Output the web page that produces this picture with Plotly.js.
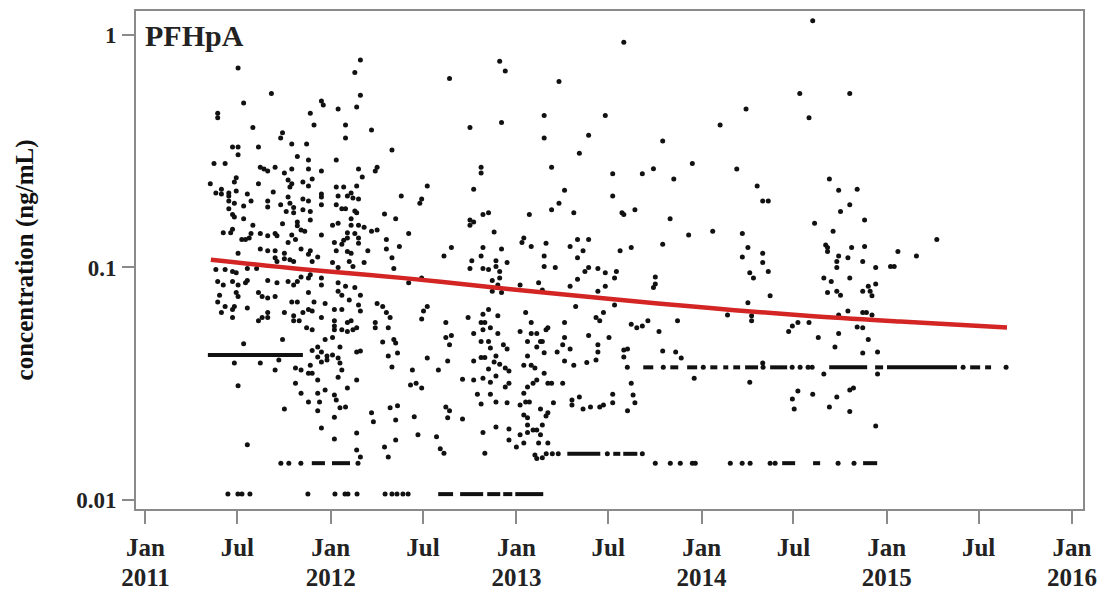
<!DOCTYPE html>
<html>
<head>
<meta charset="utf-8">
<script src="https://cdn.plot.ly/plotly-3.0.1.min.js"></script>
<style>html,body{margin:0;padding:0;background:#fff;}#chart{width:1102px;height:593px;}</style>
</head>
<body>
<div id="chart"></div>
<script>
// ---- data: [decimal year, concentration ng/mL] ----
const samples2011 = [[2011.50,0.72],[2011.68,0.56],[2011.53,0.51],[2011.95,0.52],[2011.96,0.50],[2011.89,0.46],[2011.39,0.46],[2011.39,0.44],[2011.91,0.41],[2011.74,0.38],[2011.73,0.36],[2011.58,0.40],[2011.79,0.34],[2011.87,0.34],[2011.47,0.33],[2011.50,0.33],[2011.50,0.305],[2011.61,0.33],[2011.82,0.30],[2011.88,0.29],[2011.37,0.28],[2011.43,0.28],[2011.62,0.27],[2011.64,0.265],[2011.66,0.26],[2011.70,0.27],[2011.79,0.265],[2011.88,0.265],[2011.95,0.26],[2011.75,0.255],[2011.49,0.243],[2011.48,0.233],[2011.77,0.238],[2011.85,0.233],[2011.90,0.24],[2011.79,0.229],[2011.78,0.222],[2011.88,0.224],[2011.35,0.229],[2011.61,0.229],[2011.41,0.217],[2011.38,0.209],[2011.41,0.207],[2011.45,0.209],[2011.45,0.203],[2011.49,0.213],[2011.55,0.207],[2011.69,0.211],[2011.95,0.207],[2011.95,0.201],[2011.77,0.201],[2011.85,0.197],[2011.88,0.193],[2011.45,0.193],[2011.48,0.189],[2011.57,0.193],[2011.66,0.193],[2011.66,0.182],[2011.73,0.186],[2011.78,0.189],[2011.80,0.181],[2011.80,0.172],[2011.53,0.184],[2011.95,0.186],[2011.45,0.179],[2011.47,0.169],[2011.48,0.165],[2011.76,0.174],[2011.85,0.177],[2011.89,0.174],[2011.53,0.162],[2011.89,0.160],[2011.74,0.154],[2011.82,0.157],[2011.82,0.151],[2011.84,0.145],[2011.58,0.152],[2011.47,0.146],[2011.46,0.141],[2011.42,0.141],[2011.57,0.140],[2011.56,0.134],[2011.62,0.140],[2011.66,0.137],[2011.70,0.140],[2011.71,0.137],[2011.79,0.138],[2011.86,0.143],[2011.95,0.138],[2011.52,0.132],[2011.54,0.132],[2011.77,0.128],[2011.81,0.132],[2011.62,0.120],[2011.66,0.118],[2011.50,0.115],[2011.70,0.118],[2011.84,0.120],[2011.89,0.118],[2011.88,0.114],[2011.75,0.115],[2011.75,0.109],[2011.78,0.108],[2011.80,0.106],[2011.70,0.110],[2011.71,0.106],[2011.90,0.106],[2011.93,0.111],[2011.38,0.098],[2011.43,0.098],[2011.47,0.096],[2011.49,0.095],[2011.55,0.099],[2011.60,0.099],[2011.39,0.087],[2011.42,0.084],[2011.47,0.087],[2011.50,0.084],[2011.54,0.086],[2011.55,0.088],[2011.66,0.088],[2011.71,0.086],[2011.77,0.087],[2011.80,0.084],[2011.82,0.087],[2011.84,0.091],[2011.88,0.090],[2011.89,0.093],[2011.95,0.090],[2011.95,0.084],[2011.40,0.076],[2011.39,0.071],[2011.50,0.075],[2011.49,0.078],[2011.61,0.078],[2011.63,0.075],[2011.66,0.074],[2011.70,0.075],[2011.79,0.071],[2011.82,0.071],[2011.88,0.078],[2011.91,0.071],[2011.97,0.070],[2011.41,0.064],[2011.43,0.068],[2011.47,0.066],[2011.48,0.068],[2011.47,0.061],[2011.55,0.067],[2011.61,0.059],[2011.63,0.061],[2011.66,0.061],[2011.66,0.064],[2011.75,0.064],[2011.80,0.062],[2011.80,0.059],[2011.85,0.064],[2011.88,0.066],[2011.90,0.065],[2011.83,0.059],[2011.95,0.061],[2011.87,0.055],[2011.90,0.054],[2011.97,0.049],[2011.53,0.047],[2011.74,0.049],[2011.90,0.044],[2011.93,0.0455],[2011.95,0.0433],[2011.98,0.0416],[2011.93,0.0412],[2011.95,0.0392],[2011.98,0.040],[2011.48,0.0388],[2011.62,0.0388],[2011.70,0.0362],[2011.72,0.040],[2011.81,0.037],[2011.84,0.0362],[2011.88,0.0351],[2011.90,0.0351],[2011.89,0.038],[2011.93,0.0328],[2011.81,0.0318],[2011.50,0.031],[2011.84,0.0288],[2011.93,0.0288],[2011.97,0.0297],[2011.88,0.0264],[2011.94,0.0264],[2011.75,0.0246],[2011.93,0.0242],[2011.95,0.0204],[2011.55,0.0173]];

const samples2012 = [[2012.16,0.78],[2012.13,0.69],[2012.16,0.55],[2012.14,0.49],[2012.04,0.48],[2012.08,0.41],[2012.22,0.39],[2012.08,0.36],[2012.33,0.32],[2012.03,0.29],[2012.15,0.265],[2012.25,0.27],[2012.24,0.26],[2012.17,0.245],[2012.03,0.222],[2012.07,0.222],[2012.14,0.224],[2012.04,0.203],[2012.09,0.203],[2012.11,0.209],[2012.12,0.199],[2012.38,0.203],[2012.03,0.186],[2012.06,0.179],[2012.08,0.179],[2012.15,0.197],[2012.13,0.175],[2012.14,0.172],[2012.29,0.170],[2012.35,0.162],[2012.11,0.162],[2012.01,0.152],[2012.04,0.155],[2012.11,0.152],[2012.15,0.152],[2012.18,0.149],[2012.22,0.143],[2012.25,0.145],[2012.09,0.141],[2012.09,0.134],[2012.13,0.140],[2012.15,0.134],[2012.02,0.128],[2012.07,0.131],[2012.06,0.126],[2012.15,0.127],[2012.30,0.132],[2012.37,0.123],[2012.03,0.118],[2012.09,0.117],[2012.11,0.115],[2012.20,0.118],[2012.30,0.120],[2012.01,0.105],[2012.04,0.100],[2012.10,0.106],[2012.12,0.101],[2012.18,0.105],[2012.33,0.110],[2012.34,0.099],[2012.04,0.086],[2012.08,0.083],[2012.13,0.082],[2012.16,0.076],[2012.04,0.079],[2012.06,0.076],[2012.10,0.0725],[2012.02,0.066],[2012.06,0.066],[2012.02,0.059],[2012.02,0.056],[2012.02,0.054],[2012.09,0.058],[2012.11,0.059],[2012.14,0.055],[2012.15,0.069],[2012.16,0.065],[2012.25,0.070],[2012.28,0.068],[2012.30,0.064],[2012.32,0.061],[2012.06,0.054],[2012.09,0.053],[2012.12,0.054],[2012.24,0.058],[2012.24,0.055],[2012.31,0.055],[2012.01,0.050],[2012.05,0.0455],[2012.28,0.0478],[2012.34,0.049],[2012.35,0.0473],[2012.01,0.042],[2012.14,0.0433],[2012.16,0.0437],[2012.04,0.0408],[2012.05,0.0388],[2012.31,0.0416],[2012.36,0.0429],[2012.06,0.0362],[2012.04,0.0337],[2012.33,0.0373],[2012.14,0.0328],[2012.09,0.0303],[2012.02,0.0283],[2012.03,0.0269],[2012.05,0.0249],[2012.08,0.0251],[2012.02,0.0227],[2012.22,0.0237],[2012.23,0.0217],[2012.32,0.0249],[2012.36,0.0254],[2012.35,0.0221],[2012.14,0.0194],[2012.02,0.0183],[2012.35,0.0181],[2012.14,0.0164],[2012.16,0.0153],[2012.29,0.0169],[2012.31,0.0153],[2012.91,0.77],[2012.94,0.70],[2012.64,0.65],[2012.92,0.42],[2012.75,0.40],[2012.81,0.27],[2012.81,0.255],[2012.52,0.224],[2012.77,0.217],[2012.49,0.197],[2012.48,0.189],[2012.82,0.169],[2012.85,0.172],[2012.75,0.160],[2012.77,0.157],[2012.75,0.152],[2012.88,0.142],[2012.42,0.140],[2012.65,0.122],[2012.61,0.112],[2012.82,0.122],[2012.92,0.120],[2012.81,0.112],[2012.76,0.107],[2012.89,0.107],[2012.89,0.101],[2012.95,0.105],[2012.75,0.099],[2012.82,0.099],[2012.85,0.098],[2012.91,0.096],[2012.91,0.090],[2012.87,0.088],[2012.90,0.084],[2012.87,0.079],[2012.92,0.078],[2012.42,0.086],[2012.49,0.090],[2012.52,0.068],[2012.50,0.065],[2012.49,0.060],[2012.62,0.058],[2012.74,0.061],[2012.82,0.063],[2012.85,0.066],[2012.90,0.062],[2012.81,0.058],[2012.83,0.058],[2012.86,0.055],[2012.77,0.052],[2012.82,0.054],[2012.90,0.052],[2012.62,0.050],[2012.65,0.051],[2012.64,0.0465],[2012.81,0.048],[2012.85,0.048],[2012.86,0.045],[2012.93,0.0465],[2012.95,0.0446],[2012.81,0.041],[2012.83,0.041],[2012.89,0.0416],[2012.52,0.0408],[2012.77,0.0396],[2012.63,0.0396],[2012.88,0.0392],[2012.91,0.0384],[2012.94,0.037],[2012.96,0.0359],[2012.44,0.0362],[2012.58,0.0362],[2012.85,0.0366],[2012.71,0.0331],[2012.77,0.0328],[2012.82,0.0334],[2012.86,0.0321],[2012.89,0.0341],[2012.94,0.0306],[2012.96,0.0318],[2012.43,0.0312],[2012.46,0.0318],[2012.49,0.0303],[2012.79,0.0285],[2012.86,0.0285],[2012.81,0.0259],[2012.89,0.0264],[2012.95,0.0262],[2012.62,0.0251],[2012.64,0.0242],[2012.45,0.0228],[2012.63,0.0226],[2012.71,0.0223],[2012.89,0.0206],[2012.96,0.0202],[2012.47,0.0191],[2012.57,0.0187],[2012.82,0.0195],[2012.96,0.0181],[2012.59,0.0166],[2012.61,0.0159],[2012.83,0.0159]];

const samples2013 = [[2013.23,0.63],[2013.15,0.45],[2013.48,0.45],[2013.15,0.36],[2013.39,0.37],[2013.34,0.31],[2013.19,0.27],[2013.26,0.215],[2013.23,0.189],[2013.19,0.177],[2013.31,0.172],[2013.07,0.169],[2013.04,0.134],[2013.03,0.128],[2013.16,0.127],[2013.08,0.123],[2013.29,0.123],[2013.33,0.132],[2013.39,0.132],[2013.36,0.118],[2013.15,0.112],[2013.33,0.110],[2013.15,0.101],[2013.21,0.100],[2013.37,0.096],[2013.39,0.100],[2013.44,0.099],[2013.48,0.095],[2013.02,0.084],[2013.12,0.086],[2013.14,0.080],[2013.29,0.083],[2013.33,0.089],[2013.44,0.079],[2013.48,0.083],[2013.32,0.068],[2013.05,0.064],[2013.08,0.058],[2013.26,0.058],[2013.43,0.061],[2013.45,0.059],[2013.47,0.064],[2013.02,0.053],[2013.08,0.052],[2013.11,0.052],[2013.16,0.054],[2013.17,0.055],[2013.06,0.048],[2013.13,0.048],[2013.14,0.048],[2013.11,0.0455],[2013.26,0.050],[2013.25,0.0465],[2013.29,0.0446],[2013.22,0.0433],[2013.39,0.051],[2013.44,0.0465],[2013.44,0.0433],[2013.50,0.050],[2013.15,0.043],[2013.06,0.0416],[2013.04,0.038],[2013.08,0.038],[2013.10,0.037],[2013.26,0.0396],[2013.31,0.038],[2013.38,0.039],[2013.43,0.040],[2013.15,0.0351],[2013.06,0.0306],[2013.09,0.0318],[2013.11,0.0328],[2013.17,0.0318],[2013.19,0.0318],[2013.25,0.0318],[2013.04,0.0288],[2013.02,0.0256],[2013.05,0.0264],[2013.07,0.0264],[2013.20,0.0262],[2013.30,0.0269],[2013.30,0.0256],[2013.34,0.0277],[2013.36,0.0246],[2013.40,0.0251],[2013.45,0.0251],[2013.47,0.0256],[2013.04,0.0232],[2013.06,0.0226],[2013.13,0.0246],[2013.17,0.0237],[2013.16,0.0230],[2013.06,0.0210],[2013.09,0.0200],[2013.11,0.0200],[2013.13,0.0191],[2013.14,0.0210],[2013.02,0.0191],[2013.06,0.0195],[2013.04,0.0176],[2013.00,0.0169],[2013.12,0.0176],[2013.17,0.0176],[2013.10,0.0156],[2013.11,0.0151],[2013.14,0.0152],[2013.58,0.93],[2013.79,0.35],[2013.95,0.28],[2013.52,0.253],[2013.68,0.253],[2013.74,0.266],[2013.85,0.240],[2013.52,0.203],[2013.57,0.172],[2013.58,0.169],[2013.64,0.177],[2013.83,0.162],[2013.93,0.138],[2013.79,0.126],[2013.56,0.118],[2013.62,0.122],[2013.54,0.096],[2013.53,0.090],[2013.75,0.091],[2013.75,0.085],[2013.74,0.082],[2013.53,0.0690],[2013.87,0.059],[2013.71,0.059],[2013.62,0.057],[2013.65,0.055],[2013.68,0.056],[2013.77,0.053],[2013.58,0.0442],[2013.60,0.0446],[2013.58,0.0412],[2013.79,0.0437],[2013.86,0.0433],[2013.89,0.0408],[2013.96,0.0334],[2013.62,0.0318],[2013.52,0.0285],[2013.52,0.0262],[2013.63,0.0283],[2013.64,0.0262],[2013.60,0.0242]];

const samples2014 = [[2014.53,0.56],[2014.58,0.44],[2014.24,0.48],[2014.10,0.41],[2014.19,0.265],[2014.30,0.224],[2014.33,0.193],[2014.36,0.193],[2014.06,0.143],[2014.22,0.140],[2014.25,0.122],[2014.33,0.115],[2014.33,0.105],[2014.22,0.111],[2014.26,0.095],[2014.28,0.090],[2014.36,0.096],[2014.37,0.0756],[2014.25,0.0705],[2014.14,0.0625],[2014.27,0.062],[2014.27,0.059],[2014.47,0.053],[2014.49,0.056],[2014.52,0.058],[2014.58,0.058],[2014.33,0.0388],[2014.26,0.0321],[2014.52,0.0294],[2014.49,0.0272],[2014.50,0.0246],[2014.60,1.15],[2014.80,0.56],[2014.69,0.240],[2014.74,0.215],[2014.84,0.217],[2014.80,0.186],[2014.75,0.174],[2014.88,0.160],[2014.61,0.155],[2014.71,0.143],[2014.67,0.125],[2014.68,0.122],[2014.68,0.117],[2014.81,0.122],[2014.88,0.123],[2014.74,0.112],[2014.79,0.110],[2014.87,0.106],[2014.73,0.106],[2014.73,0.100],[2014.94,0.100],[2014.66,0.090],[2014.70,0.087],[2014.80,0.090],[2014.68,0.078],[2014.73,0.079],[2014.75,0.076],[2014.87,0.079],[2014.91,0.079],[2014.92,0.0756],[2014.94,0.085],[2014.90,0.083],[2014.79,0.065],[2014.74,0.0625],[2014.87,0.064],[2014.89,0.064],[2014.92,0.0625],[2014.84,0.0555],[2014.87,0.055],[2014.63,0.050],[2014.74,0.052],[2014.90,0.049],[2014.72,0.0455],[2014.87,0.0429],[2014.95,0.0433],[2014.66,0.0348],[2014.95,0.0348],[2014.60,0.0285],[2014.73,0.0277],[2014.80,0.0297],[2014.82,0.0303],[2014.69,0.0251],[2014.80,0.0240],[2014.94,0.0208]];

const samples2015 = [[2015.06,0.117],[2015.16,0.112],[2015.27,0.132],[2015.02,0.101],[2015.04,0.101]];

// non-detects plotted at their detection limits: isolated samples [year, level]
const nonDetectDots = [[2011.445,0.0106],[2011.499,0.0106],[2011.521,0.0106],[2011.564,0.0106],[2011.877,0.0106],[2012.023,0.0106],[2012.077,0.0106],[2012.093,0.0106],[2012.142,0.0106],[2012.293,0.0106],[2012.330,0.0106],[2012.357,0.0106],[2012.389,0.0106],[2012.417,0.0106],[2011.731,0.0144],[2011.774,0.0144],[2011.839,0.0144],[2012.147,0.0144],[2013.750,0.0144],[2013.831,0.0144],[2013.885,0.0144],[2013.950,0.0144],[2013.966,0.0144],[2014.155,0.0144],[2014.219,0.0144],[2014.262,0.0144],[2014.370,0.0144],[2014.397,0.0144],[2014.737,0.0144],[2014.823,0.0144],[2013.161,0.0158],[2013.194,0.0158],[2013.226,0.0158],[2013.491,0.0158],[2013.680,0.0158],[2013.599,0.0372],[2013.793,0.0372],[2014.009,0.0372],[2014.332,0.0372],[2014.489,0.0372],[2014.532,0.0372],[2014.575,0.0372],[2014.597,0.0372],[2015.412,0.0372],[2015.644,0.0372]];
// dense runs of non-detects (too packed to separate): [start year, end year, level]
const nonDetectRuns = [[2011.337,2011.850,0.042],[2012.579,2012.659,0.0106],[2012.697,2012.821,0.0106],[2012.843,2012.913,0.0106],[2012.929,2012.978,0.0106],[2012.994,2013.145,0.0106],[2011.898,2011.969,0.0144],[2012.007,2012.104,0.0144],[2014.435,2014.505,0.0144],[2014.602,2014.640,0.0144],[2014.872,2014.948,0.0144],[2013.275,2013.453,0.0158],[2013.523,2013.561,0.0158],[2013.577,2013.653,0.0158],[2013.685,2013.739,0.0372],[2013.831,2013.874,0.0372],[2013.922,2013.976,0.0372],[2014.047,2014.085,0.0372],[2014.117,2014.144,0.0372],[2014.171,2014.208,0.0372],[2014.235,2014.305,0.0372],[2014.370,2014.462,0.0372],[2014.689,2014.894,0.0372],[2014.937,2014.980,0.0372],[2015.001,2015.379,0.0372],[2015.450,2015.504,0.0372],[2015.531,2015.563,0.0372]];

// fitted trend (red curve)
const trendYear = [2011.353,2011.834,2012.395,2012.956,2013.496,2014.047,2014.586,2015.072,2015.649];
const trendConc = [0.108,0.0985,0.090,0.0808,0.0733,0.0669,0.0618,0.0585,0.0552];

// axis ticks
const monthTickDates = ['2011-01-01','2011-07-01','2012-01-01','2012-07-01','2013-01-01','2013-07-01','2014-01-01','2014-07-01','2015-01-01','2015-07-01','2016-01-01'];
const monthTickText = ['Jan','Jul','Jan','Jul','Jan','Jul','Jan','Jul','Jan','Jul','Jan'];
const yearTickDates = ['2011-01-01','2012-01-01','2013-01-01','2014-01-01','2015-01-01','2016-01-01'];
const yearTickText = ['2011','2012','2013','2014','2015','2016'];
const yTickVals = [0.01,0.1,1];
const yTickText = ['0.01','0.1','1'];
const panelLabel = 'PFHpA';
const yTitle = 'concentration (ng/mL)';

// ---- helpers ----
function yd(y){
  const yr = Math.floor(y);
  const s = Date.UTC(yr,0,1), e = Date.UTC(yr+1,0,1);
  return new Date(s + (y-yr)*(e-s)).toISOString().slice(0,19).replace('T',' ');
}
const allSamples = samples2011.concat(samples2012, samples2013, samples2014, samples2015, nonDetectDots);
const runX = [], runY = [];
nonDetectRuns.forEach(r => { runX.push(yd(r[0]), yd(r[1]), null); runY.push(r[2], r[2], null); });

const FONT = 'Liberation Serif, Times New Roman, serif';
const XRANGE = ['2010-12-13 08:00','2016-01-22 16:00'];
const traces = [
  { type:'scatter', mode:'lines', x: runX, y: runY, connectgaps:false,
    line:{color:'#111', width:4}, hoverinfo:'skip', showlegend:false },
  { type:'scatter', mode:'markers', x: allSamples.map(p=>yd(p[0])), y: allSamples.map(p=>p[1]),
    marker:{color:'#111', size:5, line:{width:0}}, showlegend:false },
  { type:'scatter', mode:'lines', xaxis:'x2', x: trendYear.map(yd), y: trendConc,
    line:{color:'#d42525', width:4.5, shape:'spline', smoothing:1}, showlegend:false }
];

const layout = {
  width:1102, height:593,
  margin:{l:136, r:19, t:11, b:84},
  paper_bgcolor:'#fff', plot_bgcolor:'#fff',
  font:{family:FONT, color:'#111', size:22, weight:'bold'},
  showlegend:false,
  xaxis:{
    type:'date', range:XRANGE,
    tickmode:'array', tickvals:monthTickDates, ticktext:monthTickText,
    ticks:'outside', ticklen:13, tickwidth:2, tickcolor:'#8a8a8a',
    showline:true, linecolor:'#8a8a8a', linewidth:2, mirror:true,
    showgrid:false, zeroline:false, ticklabelstandoff:2,
    tickfont:{family:FONT, size:25, color:'#222', weight:'bold'}
  },
  xaxis2:{
    type:'date', range:XRANGE, overlaying:'x', anchor:'y', side:'bottom',
    tickmode:'array', tickvals:yearTickDates, ticktext:yearTickText,
    ticks:'', showline:false, showgrid:false, zeroline:false, ticklabelstandoff:51,
    tickfont:{family:FONT, size:25, color:'#222', weight:'bold'}
  },
  yaxis:{
    type:'log', range:[-2.0387, 0.103],
    tickmode:'array', tickvals:yTickVals, ticktext:yTickText,
    ticks:'outside', ticklen:12, tickwidth:2, tickcolor:'#8a8a8a',
    showline:true, linecolor:'#8a8a8a', linewidth:2, mirror:true,
    showgrid:false, zeroline:false, ticklabelstandoff:1,
    tickfont:{family:FONT, size:23, color:'#222', weight:'bold'},
    title:{text:yTitle, font:{family:FONT, size:25, color:'#111', weight:'bold'}, standoff:35}
  },
  annotations:[{
    text:panelLabel, xref:'paper', yref:'paper', x:0, y:1, xanchor:'left', yanchor:'top',
    xshift:7, yshift:-6, showarrow:false,
    font:{family:FONT, size:30, color:'#222', weight:'bold'}
  }]
};

Plotly.newPlot('chart', traces, layout, {staticPlot:true, displayModeBar:false});
</script>
</body>
</html>
